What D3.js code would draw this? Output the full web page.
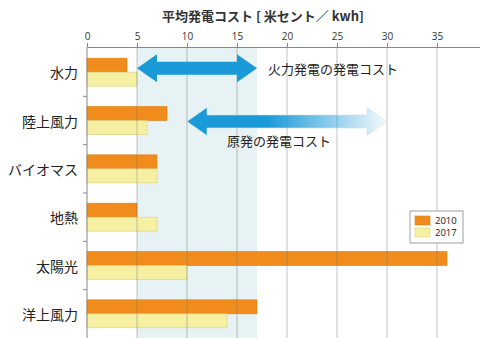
<!DOCTYPE html>
<html><head><meta charset="utf-8">
<script src="https://cdn.jsdelivr.net/npm/d3@7"></script>
<style>
body{margin:0;background:#fff;}
text{font-family:"Noto Sans CJK JP","Noto Sans",sans-serif;}
</style></head>
<body>
<svg id="c" width="480" height="338"></svg>
<script>
const categories = ["水力","陸上風力","バイオマス","地熱","太陽光","洋上風力"];
const values2010 = [4, 8, 7, 5, 36, 17];
const values2017 = [5, 6, 7, 7, 10, 14];
const seriesNames = ["2010","2017"];
const xTicks = [0,5,10,15,20,25,30,35];
const fireRange = [5, 17];
const nuclearRange = [10, 30];
const title = "平均発電コスト [ 米セント／ kwh]";
const fireLabel = "火力発電の発電コスト";
const nuclearLabel = "原発の発電コスト";

(function(){
const svg = d3.select("#c");
const mLeft = 87, mTop = 47, mBottom = 338, mRight = 487;
const x = d3.scaleLinear().domain([0, 40]).range([mLeft, mRight]);
const y = d3.scaleBand().domain(categories).range([mTop+1, mBottom]).paddingInner(0).paddingOuter(0);
const bw = y.bandwidth();
const colors = {"2010":"#f08c1c","2017":"#f6f0a2"};
const strokes = {"2010":"#e07d10","2017":"#d8cf80"};

// shaded region
svg.append("rect").attr("x", x(fireRange[0])).attr("y", mTop).attr("width", x(fireRange[1]) - x(fireRange[0])).attr("height", mBottom - mTop).attr("fill", "#e7f2f4");

// bars
const barH = 14;
const g = svg.append("g");
categories.forEach((c, i) => {
  const y0 = y(c) + (bw - 2*barH)/2;
  [[values2010[i],"2010",0],[values2017[i],"2017",1]].forEach(([v,s,k]) => {
    g.append("rect").attr("x", x(0)).attr("y", y0 + k*barH).attr("width", x(v) - x(0)).attr("height", barH)
      .attr("fill", colors[s]).attr("stroke", strokes[s]).attr("stroke-width", 0.6);
  });
});

// grid lines
svg.append("g").selectAll("line").data(xTicks.filter(d => d > 0)).join("line")
  .attr("x1", d => x(d)).attr("x2", d => x(d)).attr("y1", mTop).attr("y2", mBottom)
  .attr("stroke", "#777").attr("stroke-opacity", 0.45).attr("stroke-width", 1);

// top axis
const ax = svg.append("g").attr("transform", `translate(0,${mTop})`)
  .call(d3.axisTop(x).tickValues(xTicks).tickSize(4).tickSizeOuter(0));
ax.select(".domain").attr("stroke", "#888");
ax.selectAll(".tick line").attr("stroke", "#888");
ax.selectAll(".tick text").attr("font-size", 10).attr("fill", "#333").attr("dy", "0em")
  .style("font-family", "'Open Sans',sans-serif");

// left axis line and ticks
svg.append("line").attr("x1", mLeft).attr("x2", mLeft).attr("y1", mTop).attr("y2", mBottom).attr("stroke", "#888");
svg.append("g").selectAll("line").data(categories.slice(1)).join("line")
  .attr("x1", mLeft - 4).attr("x2", mLeft).attr("y1", d => y(d)).attr("y2", d => y(d)).attr("stroke", "#888");

// category labels
svg.append("g").selectAll("text").data(categories).join("text")
  .attr("x", 78).attr("y", d => y(d) + bw/2).attr("text-anchor", "end").attr("dominant-baseline", "central")
  .attr("font-size", 14).attr("fill", "#222").text(d => d);

// title
svg.append("text").attr("x", 263).attr("y", 15).attr("text-anchor", "middle").attr("dominant-baseline", "central")
  .attr("font-size", 13).attr("font-weight", "bold").attr("fill", "#333").text(title);

// arrows
const defs = svg.append("defs");
const grad = defs.append("linearGradient").attr("id", "ng").attr("x1", "0").attr("x2", "1").attr("y1", "0").attr("y2", "0");
grad.append("stop").attr("offset", "0").attr("stop-color", "#1a9ad8");
grad.append("stop").attr("offset", "0.4").attr("stop-color", "#1a9ad8");
grad.append("stop").attr("offset", "1").attr("stop-color", "#1a9ad8").attr("stop-opacity", 0.05);

function arrow(x1, x2, cy, fill) {
  const hl = 20, hh = 14, sh = 6.5;
  const pts = [[x1, cy],[x1+hl, cy-hh],[x1+hl, cy-sh],[x2-hl, cy-sh],[x2-hl, cy-hh],[x2, cy],
               [x2-hl, cy+hh],[x2-hl, cy+sh],[x1+hl, cy+sh],[x1+hl, cy+hh]];
  return svg.append("path").attr("d", "M" + pts.map(p => p.join(",")).join("L") + "Z").attr("fill", fill);
}
const fy = y(categories[0]) + bw*0.42;
arrow(x(fireRange[0]), x(fireRange[1]), fy, "#1a9ad8");
const ny = y(categories[1]) + bw*0.52;
const na = arrow(x(nuclearRange[0]), x(nuclearRange[1]), ny, "url(#ng)");
na.attr("stroke", "#cde6f2").attr("stroke-width", 0.6);

svg.append("text").attr("x", 268).attr("y", fy).attr("dominant-baseline", "central").attr("font-size", 13)
  .attr("fill", "#222").text(fireLabel);
svg.append("text").attr("x", 227).attr("y", ny + 19).attr("dominant-baseline", "central").attr("font-size", 13)
  .attr("fill", "#222").text(nuclearLabel);

// legend
const lg = svg.append("g").attr("transform", "translate(410,211)");
lg.append("rect").attr("width", 53).attr("height", 32).attr("fill", "#fff").attr("stroke", "#888").attr("stroke-width", 0.8);
seriesNames.forEach((s, i) => {
  lg.append("rect").attr("x", 5).attr("y", 5 + i*12).attr("width", 15).attr("height", 9)
    .attr("fill", colors[s]).attr("stroke", strokes[s]).attr("stroke-width", 0.6);
  lg.append("text").attr("x", 25).attr("y", 9.5 + i*12).attr("dominant-baseline", "central")
    .attr("font-size", 9.5).attr("fill", "#222").style("font-family", "'Open Sans',sans-serif").text(s);
});
})();
</script>
</body></html>
